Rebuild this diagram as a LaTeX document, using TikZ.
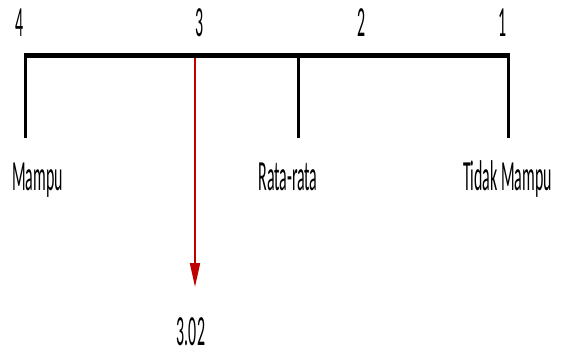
\documentclass[tikz,border=0pt]{standalone}
\usepackage{fontspec}
\setmainfont[FakeStretch=0.37]{Carlito}
\usetikzlibrary{arrows.meta}

\begin{document}
\begin{tikzpicture}[x=1pt, y=-1pt,
  every node/.style={font=\fontsize{43}{50}\selectfont, inner sep=0pt, anchor=base},
  bar/.style={line width=5.5pt},
  tick/.style={line width=3pt},
  pointer/.style={draw=red!75!black, line width=2pt, -{Triangle[length=24pt,width=10pt]}}
]
\useasboundingbox (0,0) rectangle (562,356);

% scale numbers
\node (s4) at (19.5,36) {4};
\node (s3) at (200,36) {3};
\node (s2) at (362,36) {2};
\node (s1) at (503,36) {1};

% bar and ticks
\coordinate (barL) at (24,55.5);
\coordinate (barR) at (510,55.5);
\coordinate (tMampu) at (25.5,55.5);
\coordinate (tRata) at (298,55.5);
\coordinate (tTidak) at (508.5,55.5);
\coordinate (eMampu) at (25.5,138);
\coordinate (eRata) at (298,138);
\coordinate (eTidak) at (508.5,138);

\draw[bar] (barL) -- (barR);
\draw[tick] (tMampu) -- (eMampu);
\draw[tick] (tRata) -- (eRata);
\draw[tick] (tTidak) -- (eTidak);

% category labels
\node (mampu) at (37.5,190) {Mampu};
\node (rata) at (288,190) {Rata-rata};
\node (tidak) at (507.5,190) {Tidak Mampu};

% score
\coordinate (pStart) at (195,58);
\coordinate (pEnd) at (195,287);
\draw[pointer] (pStart) -- (pEnd);
\node (score) at (191,345) {3.02};
\end{tikzpicture}
\end{document}
